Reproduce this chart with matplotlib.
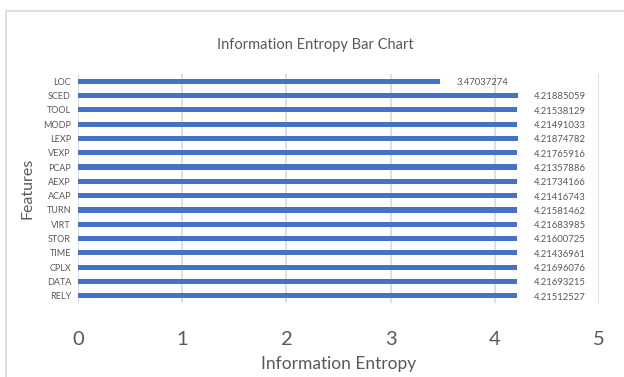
import matplotlib
matplotlib.use("Agg")
import matplotlib.pyplot as plt
from matplotlib.patches import Rectangle

plt.rcParams['font.family'] = ['Lato', 'DejaVu Sans']

# Data (top to bottom as shown)
features = ["LOC", "SCED", "TOOL", "MODP", "LEXP", "VEXP", "PCAP", "AEXP",
            "ACAP", "TURN", "VIRT", "STOR", "TIME", "CPLX", "DATA", "RELY"]
entropy = [3.47037274, 4.21885059, 4.21538129, 4.21491033, 4.21874782,
           4.21765916, 4.21357886, 4.21734166, 4.21416743, 4.21581462,
           4.21683985, 4.21600725, 4.21436961, 4.21696076, 4.21693215,
           4.21512527]
xticks = [0, 1, 2, 3, 4, 5]

text_col = "#595959"
grid_col = "#d9d9d9"

fig = plt.figure(figsize=(6.24, 3.77), dpi=100)
ax = fig.add_axes([78/624, 1 - 303/377, (599-78)/624, (303-74)/377])

# chart border
fig.patches.append(Rectangle((6/624, -0.1), 1.0, 1 - 11/377 + 0.1,
                             transform=fig.transFigure, fill=False,
                             edgecolor=grid_col, linewidth=1.2))

ypos = list(range(len(features)))[::-1]
ax.barh(ypos, entropy, height=0.36, color="#4472C4", zorder=3)

for y, v in zip(ypos, entropy):
    ax.annotate(f"{v:.8f}", (v, y), xytext=(12, -1), textcoords="offset points",
                fontsize=6.8, color=text_col, va="center", ha="left")

ax.set_xlim(0, 5)
ax.set_ylim(-0.5, len(features) - 0.5)
ax.set_xticks(xticks)
ax.set_xticklabels([str(t) for t in xticks], fontsize=14.5, color=text_col)
ax.set_yticks(ypos)
ax.set_yticklabels(features, fontsize=6.5, color=text_col)
ax.tick_params(axis="both", length=0)
ax.tick_params(axis="x", pad=20)
ax.tick_params(axis="y", pad=5)
ax.grid(axis="x", color=grid_col, linewidth=1.2, zorder=0)
for s in ax.spines.values():
    s.set_visible(False)

ax.set_xlabel("Information Entropy", fontsize=12.5, color=text_col, labelpad=6)
ax.set_ylabel("Features", fontsize=11.5, color=text_col, labelpad=6)
fig.text(315/624, 1 - 45/377, "Information Entropy Bar Chart", fontsize=10.5,
         color=text_col, ha="center", va="center")

fig.savefig("out.png", dpi=100)
